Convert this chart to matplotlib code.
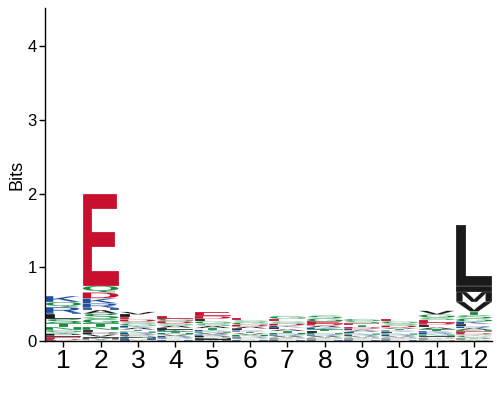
"""
Protein sequence logo, 12 positions, letters stacked by information content (bits).
"""
import matplotlib
matplotlib.use('Agg')
import matplotlib.pyplot as plt
from matplotlib.textpath import TextPath
from matplotlib.patches import PathPatch
from matplotlib.font_manager import FontProperties
from matplotlib.transforms import Affine2D

# Letters per position, listed from top of the stack down, with heights in bits
positions = list(range(1, 13))

pos1_letters = ['K', 'Q', 'R', 'H', 'L', 'S', 'T', 'N', 'G', 'Y', 'P', 'I', 'E', 'D', 'F']
pos1_heights = [0.08, 0.07, 0.08, 0.02, 0.06, 0.06, 0.05, 0.04, 0.03, 0.02, 0.03, 0.02, 0.02, 0.02, 0.01]

pos2_letters = ['E', 'Q', 'D', 'K', 'R', 'H', 'A', 'S', 'G', 'T', 'N', 'L', 'P', 'V', 'I', 'M', 'F', 'Y']
pos2_heights = [1.25, 0.09, 0.08, 0.07, 0.06, 0.03, 0.05, 0.07, 0.06, 0.05, 0.04, 0.03, 0.03, 0.03, 0.02, 0.02, 0.01, 0.01]

pos3_letters = ['V', 'L', 'E', 'D', 'S', 'G', 'K', 'A', 'T', 'N', 'R', 'P', 'Q', 'I', 'H', 'M', 'F']
pos3_heights = [0.035, 0.035, 0.03, 0.03, 0.03, 0.03, 0.025, 0.025, 0.025, 0.02, 0.02, 0.02, 0.02, 0.015, 0.015, 0.01, 0.01]

pos4_letters = ['E', 'G', 'D', 'S', 'A', 'L', 'K', 'T', 'N', 'V', 'R', 'P', 'Q', 'I', 'H']
pos4_heights = [0.04, 0.035, 0.03, 0.03, 0.03, 0.025, 0.025, 0.02, 0.02, 0.02, 0.02, 0.015, 0.015, 0.01, 0.01]

pos5_letters = ['E', 'D', 'L', 'G', 'S', 'A', 'T', 'K', 'N', 'V', 'R', 'P', 'Q', 'I', 'M', 'H']
pos5_heights = [0.05, 0.04, 0.03, 0.035, 0.03, 0.03, 0.025, 0.02, 0.02, 0.02, 0.02, 0.02, 0.015, 0.015, 0.01, 0.01]

pos6_letters = ['E', 'S', 'G', 'D', 'A', 'L', 'K', 'T', 'V', 'N', 'R', 'P', 'Q', 'I', 'H']
pos6_heights = [0.035, 0.03, 0.03, 0.025, 0.025, 0.025, 0.02, 0.02, 0.02, 0.02, 0.015, 0.015, 0.015, 0.01, 0.01]

pos7_letters = ['G', 'E', 'S', 'D', 'K', 'L', 'A', 'T', 'N', 'R', 'V', 'Q', 'P', 'I', 'H']
pos7_heights = [0.04, 0.035, 0.03, 0.025, 0.025, 0.025, 0.025, 0.025, 0.02, 0.02, 0.02, 0.015, 0.015, 0.01, 0.01]

pos8_letters = ['S', 'G', 'E', 'D', 'A', 'K', 'T', 'L', 'N', 'R', 'V', 'Q', 'P', 'I', 'H']
pos8_heights = [0.04, 0.04, 0.03, 0.025, 0.025, 0.025, 0.025, 0.025, 0.02, 0.02, 0.02, 0.015, 0.015, 0.01, 0.01]

pos9_letters = ['G', 'S', 'E', 'T', 'D', 'K', 'A', 'L', 'N', 'R', 'V', 'Q', 'P', 'I', 'H']
pos9_heights = [0.03, 0.03, 0.025, 0.025, 0.025, 0.02, 0.02, 0.02, 0.02, 0.02, 0.015, 0.015, 0.015, 0.01, 0.01]

pos10_letters = ['E', 'G', 'S', 'D', 'A', 'T', 'K', 'L', 'N', 'R', 'V', 'Q', 'P', 'I', 'H']
pos10_heights = [0.035, 0.03, 0.03, 0.025, 0.02, 0.02, 0.02, 0.02, 0.02, 0.02, 0.015, 0.015, 0.015, 0.01, 0.01]

pos11_letters = ['V', 'G', 'S', 'E', 'D', 'L', 'A', 'T', 'K', 'R', 'N', 'I', 'Q', 'P', 'H', 'M']
pos11_heights = [0.05, 0.04, 0.035, 0.035, 0.03, 0.035, 0.025, 0.025, 0.025, 0.02, 0.02, 0.02, 0.015, 0.015, 0.01, 0.01]

pos12_letters = ['L', 'I', 'M', 'V', 'T', 'S', 'G', 'K', 'F', 'R', 'A', 'N', 'E', 'D', 'Q', 'C', 'Y', 'P', 'H', 'W']
pos12_heights = [0.82, 0.08, 0.14, 0.13, 0.05, 0.045, 0.04, 0.035, 0.03, 0.025, 0.025, 0.02, 0.02, 0.02, 0.02, 0.02, 0.015, 0.015, 0.01, 0.01]

stack_letters = [pos1_letters, pos2_letters, pos3_letters, pos4_letters, pos5_letters, pos6_letters,
                 pos7_letters, pos8_letters, pos9_letters, pos10_letters, pos11_letters, pos12_letters]
stack_heights = [pos1_heights, pos2_heights, pos3_heights, pos4_heights, pos5_heights, pos6_heights,
                 pos7_heights, pos8_heights, pos9_heights, pos10_heights, pos11_heights, pos12_heights]

# chemistry colouring
colors = {}
for aa in 'GSTYCQN':
    colors[aa] = '#138c3d'
for aa in 'KRH':
    colors[aa] = '#1f4f9c'
for aa in 'DE':
    colors[aa] = '#c8102e'
for aa in 'AVLIPWFM':
    colors[aa] = '#1a1a1a'

font = FontProperties(family='Liberation Sans', weight='bold')
glyphs = {}


def draw_letter(ax, letter, x, y, width, height, color):
    if letter not in glyphs:
        glyphs[letter] = TextPath((0, 0), letter, size=1, prop=font)
    path = glyphs[letter]
    ext = path.get_extents()
    tr = (Affine2D()
          .translate(-ext.x0, -ext.y0)
          .scale(width / ext.width, height / ext.height)
          .translate(x - width / 2, y))
    # thin white edge keeps tiny letters apart, like the original rendering
    ax.add_patch(PathPatch(tr.transform_path(path), facecolor=color,
                           edgecolor='white', lw=0.15))


fig = plt.figure(figsize=(5, 4), dpi=100)
ax = fig.add_axes([0.09, 0.1475, 0.894, 0.8325])

for pos, letters, heights in zip(positions, stack_letters, stack_heights):
    y = 0.0
    # stack from the bottom: lists are written top-down
    for letter, h in zip(reversed(letters), reversed(heights)):
        draw_letter(ax, letter, pos, y, 0.96, h, colors[letter])
        y += h

ax.set_xlim(0.51, 12.48)
ax.set_ylim(0, 4.52)
ax.set_xticks(positions)
ax.set_xticklabels([str(p) for p in positions], fontsize=19, family='Liberation Sans')
ax.set_yticks([0, 1, 2, 3, 4])
ax.set_yticklabels(['0', '1', '2', '3', '4'], fontsize=12, family='Liberation Sans')
ax.set_ylabel('Bits', fontsize=13, family='Liberation Sans', labelpad=1)
ax.tick_params(axis='x', length=4, width=1, pad=2)
ax.tick_params(axis='y', length=4, width=1, pad=2)
for side in ['top', 'right']:
    ax.spines[side].set_visible(False)
for side in ['left', 'bottom']:
    ax.spines[side].set_linewidth(1)

plt.savefig('out.png', dpi=100)
plt.close()
